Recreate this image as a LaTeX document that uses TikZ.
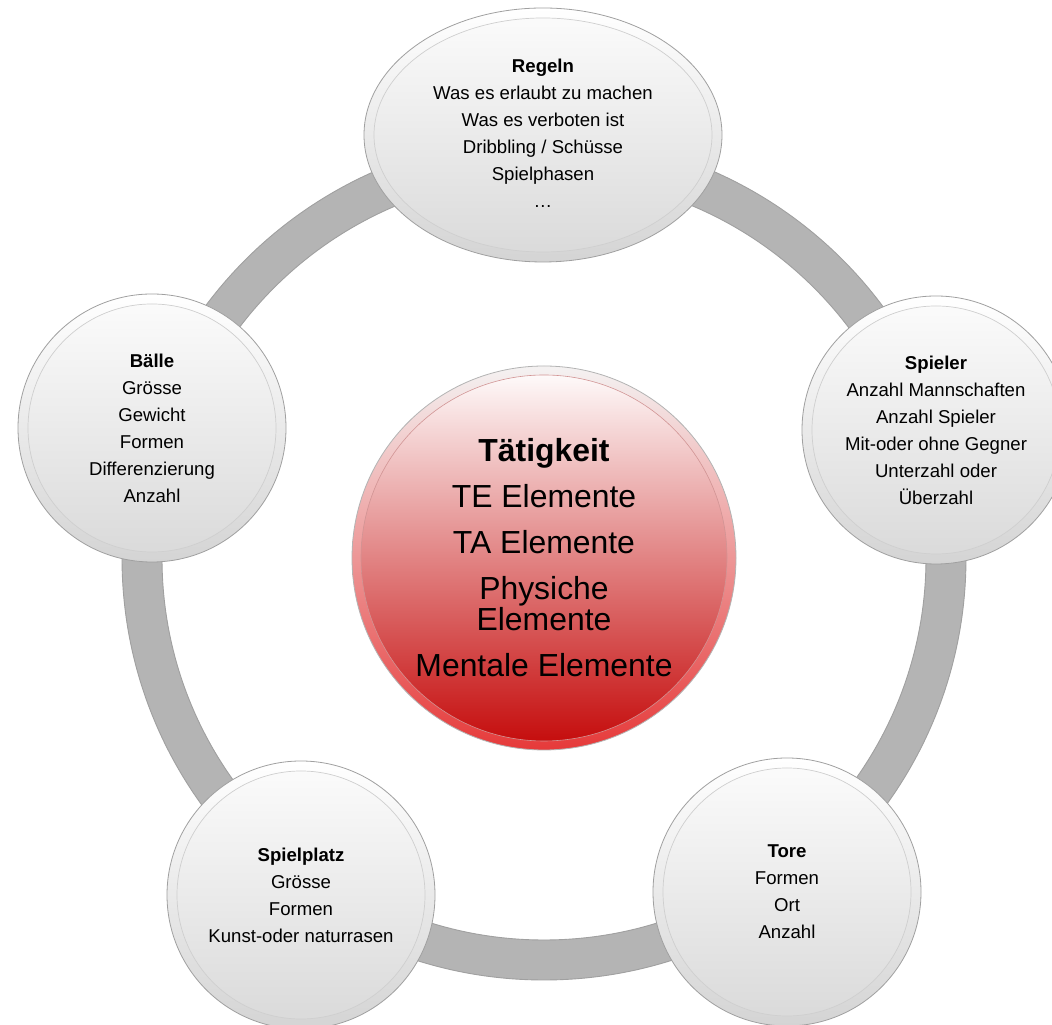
\documentclass[tikz,border=0pt]{standalone}
\usepackage{fontspec}
\setmainfont{Liberation Sans}
\usetikzlibrary{shapes.geometric}
\definecolor{ringgray}{HTML}{B4B4B4}
\definecolor{ringedge}{HTML}{A0A0A0}
\definecolor{rimline}{HTML}{A0A0A0}
\definecolor{rimtop}{HTML}{FFFFFF}
\definecolor{rimbot}{HTML}{D4D4D4}
\definecolor{facetop}{HTML}{FCFCFC}
\definecolor{facebot}{HTML}{D9D9D9}
\definecolor{faceline}{HTML}{CFCFCF}
\definecolor{redrimtop}{HTML}{F4F2F2}
\definecolor{redrimbot}{HTML}{E63A3A}
\definecolor{redmid}{HTML}{E8A2A2}
\definecolor{redbot}{HTML}{C40808}
\tikzset{
  smalltext/.style={font=\fontsize{18.6}{27}\selectfont, align=center, text=black},
  gbtn/.style={circle, inner sep=0pt, minimum size=2*#1, draw=rimline, line width=0.8pt,
    top color=rimtop, bottom color=rimbot, smalltext,
    path picture={\shade[top color=facetop, bottom color=facebot, draw=faceline, line width=0.7pt]
      (path picture bounding box.center) circle ({#1-10pt});}},
  gell/.style={ellipse, inner sep=0pt, minimum width=358pt, minimum height=254pt, draw=rimline, line width=0.8pt,
    top color=rimtop, bottom color=rimbot, smalltext,
    path picture={\shade[top color=facetop, bottom color=facebot, draw=faceline, line width=0.7pt]
      (path picture bounding box.center) ellipse [x radius=169pt, y radius=117pt];}},
  redbtn/.style={circle, inner sep=0pt, minimum size=384pt, draw=rimline!80, line width=0.8pt,
    top color=redrimtop, bottom color=redrimbot, align=center,
    font=\fontsize{31.9}{31}\selectfont,
    path picture={\shade[top color=white, middle color=redmid, bottom color=redbot, draw=red!40!gray!60, line width=0.6pt]
      (path picture bounding box.center) circle (183pt);}},
  ringline/.style={line width=40pt, draw=ringgray},
  ringborder/.style={line width=0.9pt, draw=ringedge}
}
\begin{document}
\begin{tikzpicture}[x=1pt,y=1pt]
\fill[white] (0,0) rectangle (1052,1025);
\useasboundingbox (0,0) rectangle (1052,1025);
\clip (0,0) rectangle (1052,1025);
\coordinate (mid) at (544,467);
% ring
\draw[ringline] (mid) circle (402pt);
\draw[ringborder] (mid) circle (422pt);
\draw[ringborder] (mid) circle (382pt);
% nodes
\node[redbtn] (core) at (mid) {\textbf{Tätigkeit}\\[15pt]TE Elemente\\[15pt]TA Elemente\\[15pt]Physiche\\Elemente\\[15pt]Mentale Elemente};
\node[gell] (regeln) at (543,890) {\raisebox{5pt}{\begin{tabular}{@{}c@{}}\textbf{Regeln}\\Was es erlaubt zu machen\\Was es verboten ist\\Dribbling / Schüsse\\Spielphasen\\…\end{tabular}}};
\node[gbtn=134pt] (baelle) at (152,597) {\textbf{Bälle}\\Grösse\\Gewicht\\Formen\\Differenzierung\\Anzahl};
\node[gbtn=134pt] (spieler) at (936,595) {\textbf{Spieler}\\Anzahl Mannschaften\\Anzahl Spieler\\Mit-oder ohne Gegner\\Unterzahl oder\\Überzahl};
\node[gbtn=134pt] (platz) at (301,130) {\textbf{Spielplatz}\\Grösse\\Formen\\Kunst-oder naturrasen};
\node[gbtn=134pt] (tore) at (787,133) {\textbf{Tore}\\Formen\\Ort\\Anzahl};
\end{tikzpicture}
\end{document}
